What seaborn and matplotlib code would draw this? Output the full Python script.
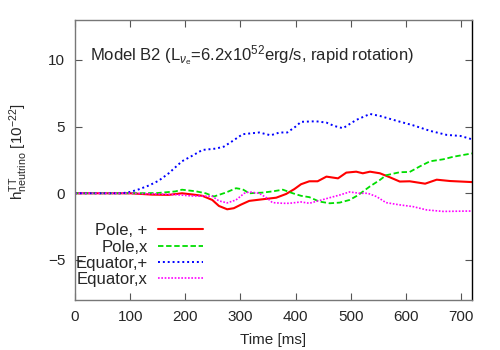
import matplotlib
matplotlib.use("Agg")
import matplotlib.pyplot as plt
import seaborn as sns

# Data (time in ms, strain in 1e-22)
t_pole_plus = [0, 100, 140, 170, 194, 215, 231, 249, 261, 276, 288, 301, 316, 340, 365,
               383, 398, 410, 425, 440, 456, 477, 492, 510, 522, 535, 553, 571, 589, 607,
               635, 656, 680, 720]
h_pole_plus = [0, 0, -0.1, -0.12, 0.0, -0.1, -0.19, -0.5, -0.95, -1.2, -1.12, -0.85, -0.57,
               -0.45, -0.33, -0.05, 0.32, 0.68, 0.9, 0.9, 1.25, 1.12, 1.55, 1.62, 1.5, 1.62,
               1.5, 1.2, 0.88, 0.9, 0.72, 1.02, 0.92, 0.84]

t_pole_x = [0, 100, 150, 182, 194, 219, 237, 252, 274, 292, 304, 316, 340, 358, 377, 395,
            410, 425, 443, 462, 480, 498, 513, 535, 553, 564, 589, 607, 626, 644, 668, 686, 720]
h_pole_x = [0, 0, 0.02, 0.14, 0.27, 0.15, 0.0, -0.24, 0.06, 0.38, 0.3, 0.0, 0.05, 0.14, 0.27,
            0.0, -0.19, -0.29, -0.62, -0.75, -0.7, -0.5, -0.15, 0.52, 1.0, 1.35, 1.58, 1.6,
            2.03, 2.4, 2.55, 2.74, 2.99]

t_eq_plus = [0, 85, 100, 116, 135, 152, 170, 194, 212, 231, 255, 270, 285, 304, 334, 355,
             371, 385, 400, 410, 437, 456, 470, 486, 510, 535, 553, 583, 613, 644, 674, 699, 720]
h_eq_plus = [0, 0, 0.1, 0.3, 0.6, 0.95, 1.5, 2.4, 2.8, 3.25, 3.35, 3.5, 3.9, 4.43, 4.56, 4.35,
             4.56, 4.56, 5.0, 5.36, 5.4, 5.3, 5.05, 4.88, 5.5, 5.95, 5.8, 5.44, 5.1, 4.68,
             4.38, 4.3, 4.05]

t_eq_x = [0, 100, 150, 182, 212, 249, 261, 276, 292, 307, 316, 334, 349, 358, 377, 389, 410,
          425, 443, 462, 480, 498, 516, 531, 547, 564, 589, 613, 638, 668, 720]
h_eq_x = [0, 0, -0.05, -0.1, -0.2, -0.22, -0.57, -0.72, -0.5, 0.0, 0.1, 0.0, -0.38, -0.7,
          -0.75, -0.75, -0.65, -0.75, -0.55, -0.33, -0.13, 0.1, 0.0, 0.0, -0.25, -0.7, -0.87,
          -1.0, -1.25, -1.36, -1.33]

x_ticks = [0, 100, 200, 300, 400, 500, 600, 700]
y_ticks = [-5, 0, 5, 10]

sns.set_style("ticks")
plt.rcParams["font.family"] = ["Liberation Sans", "DejaVu Sans"]
plt.rcParams["mathtext.fontset"] = "custom"
plt.rcParams["mathtext.rm"] = "Liberation Sans"
plt.rcParams["mathtext.it"] = "Liberation Sans:italic"

fig = plt.figure(figsize=(5, 3.5), dpi=100)
ax = fig.add_axes([0.15, 0.143, 0.794, 0.8])

sns.lineplot(x=t_pole_plus, y=h_pole_plus, ax=ax, color="#ff0000", lw=1.5,
             label="Pole, +", estimator=None, sort=False)
sns.lineplot(x=t_pole_x, y=h_pole_x, ax=ax, color="#00dd00", lw=1.3,
             linestyle=(0, (3, 1.5)), label="Pole,x", estimator=None, sort=False)
sns.lineplot(x=t_eq_plus, y=h_eq_plus, ax=ax, color="#0000ff", lw=1.4,
             linestyle=(0, (1, 1.5)), label="Equator,+", estimator=None, sort=False)
sns.lineplot(x=t_eq_x, y=h_eq_x, ax=ax, color="#ff00ff", lw=1.2,
             linestyle=(0, (1, 1)), label="Equator,x", estimator=None, sort=False)

ax.set_xlim(0, 720)
ax.set_ylim(-8, 13)
ax.set_xticks(x_ticks)
ax.set_yticks(y_ticks)
ax.tick_params(direction="in", length=5, labelsize=11, top=True, right=True,
               color="#555555", pad=7)
for side in ["left", "top", "bottom"]:
    ax.spines[side].set_color("#777777")
ax.spines["right"].set_color("black")
for sp in ax.spines.values():
    sp.set_linewidth(1.0)

ax.set_xlabel("Time [ms]", fontsize=11, labelpad=6.5)
ax.set_ylabel(r"h$^{\rm TT}_{\rm neutrino}$ [10$^{-22}$]", fontsize=11)
ax.yaxis.set_label_coords(-0.113, 0.53)

ax.text(28, 10.3, r"Model B2 (L$_{\nu_{\rm e}}$=6.2x10$^{52}$erg/s, rapid rotation)",
        fontsize=12, va="center", ha="left")

ax.legend(loc="upper right", bbox_to_anchor=(0.322, 0.274), frameon=False,
          markerfirst=False, fontsize=12, handlelength=2.7, handletextpad=0.6,
          labelspacing=0.08, borderpad=0, borderaxespad=0)

fig.savefig("out.png", dpi=100)
